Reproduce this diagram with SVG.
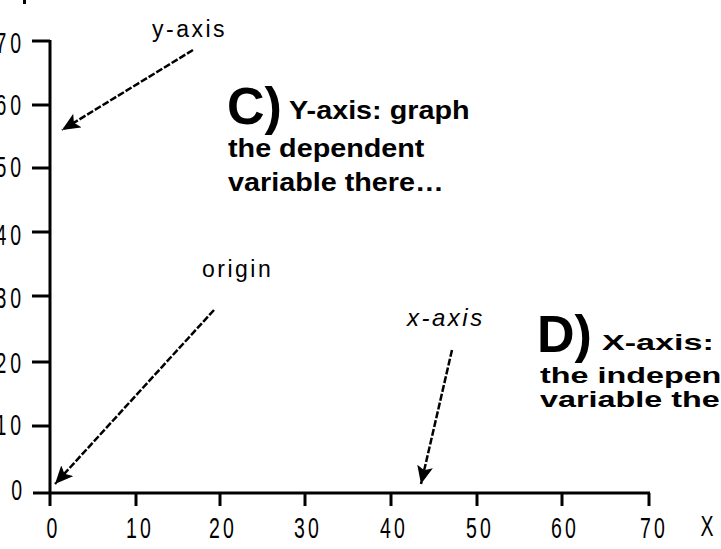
<svg xmlns="http://www.w3.org/2000/svg" width="721" height="549" viewBox="0 0 721 549">
  <style>
    .axis { stroke: #000; stroke-width: 3; fill: none; }
    .num { font-family: "Liberation Sans", Arial, sans-serif; font-size: 30px; fill: #000; }
    .pix { font-family: "Liberation Sans", Arial, sans-serif; font-size: 23px; fill: #000; letter-spacing: 2.5px; }
    .ital { font-style: italic; font-size: 24px; }
    .big { font-family: "Liberation Sans", Arial, sans-serif; font-weight: bold; font-size: 52px; fill: #000; }
    .note { font-family: "Liberation Sans", Arial, sans-serif; font-weight: bold; font-size: 25px; fill: #000; }
    .note-d { font-family: "Liberation Sans", Arial, sans-serif; font-weight: bold; font-size: 22px; fill: #000; }
    .conn { stroke: #000; stroke-width: 2.5; fill: none; stroke-dasharray: 7 2; }
  </style>
  <defs>
    <marker id="head" markerUnits="userSpaceOnUse" markerWidth="20" markerHeight="16" refX="18" refY="8" orient="auto">
      <path d="M0,0 L18,8 L0,16 L4,8 z" fill="#000"/>
    </marker>
  </defs>
  <rect width="721" height="549" fill="#fff"/>

  <g id="axes">
    <line class="axis" x1="50" y1="40" x2="50" y2="506"/>
    <line class="axis" x1="33" y1="493" x2="650" y2="493"/>
    <line class="axis" x1="32" y1="41" x2="50" y2="41"/>
    <line class="axis" x1="32" y1="105" x2="50" y2="105"/>
    <line class="axis" x1="32" y1="168" x2="50" y2="168"/>
    <line class="axis" x1="32" y1="232" x2="50" y2="232"/>
    <line class="axis" x1="32" y1="296" x2="50" y2="296"/>
    <line class="axis" x1="32" y1="362" x2="50" y2="362"/>
    <line class="axis" x1="32" y1="426" x2="50" y2="426"/>
    <line class="axis" x1="136" y1="493" x2="136" y2="506"/>
    <line class="axis" x1="220" y1="493" x2="220" y2="506"/>
    <line class="axis" x1="305" y1="493" x2="305" y2="506"/>
    <line class="axis" x1="391" y1="493" x2="391" y2="506"/>
    <line class="axis" x1="477" y1="493" x2="477" y2="506"/>
    <line class="axis" x1="562" y1="493" x2="562" y2="506"/>
    <line class="axis" x1="649" y1="493" x2="649" y2="506"/>
    <rect x="23" y="0" width="3" height="4" fill="#000"/>
  </g>

  <g id="y-labels" class="num" text-anchor="end">
    <text transform="translate(25,53) scale(0.65,1)" letter-spacing="6">70</text>
    <text transform="translate(25,115) scale(0.65,1)" letter-spacing="6">60</text>
    <text transform="translate(25,177) scale(0.65,1)" letter-spacing="6">50</text>
    <text transform="translate(25,245) scale(0.65,1)" letter-spacing="6">40</text>
    <text transform="translate(25,308) scale(0.65,1)" letter-spacing="6">30</text>
    <text transform="translate(25,373) scale(0.65,1)" letter-spacing="6">20</text>
    <text transform="translate(25,435) scale(0.65,1)" letter-spacing="6">10</text>
    <text transform="translate(22,500) scale(0.65,1)">0</text>
  </g>

  <g id="x-labels" class="num" text-anchor="middle">
    <text transform="translate(52,538) scale(0.65,1)">0</text>
    <text transform="translate(140,538) scale(0.65,1)" letter-spacing="5">10</text>
    <text transform="translate(223,538) scale(0.65,1)" letter-spacing="5">20</text>
    <text transform="translate(308,538) scale(0.65,1)" letter-spacing="5">30</text>
    <text transform="translate(394,538) scale(0.65,1)" letter-spacing="5">40</text>
    <text transform="translate(480,538) scale(0.65,1)" letter-spacing="5">50</text>
    <text transform="translate(565,538) scale(0.65,1)" letter-spacing="5">60</text>
    <text transform="translate(654,538) scale(0.65,1)" letter-spacing="5">70</text>
    <text transform="translate(707,536) scale(0.65,1)">X</text>
  </g>

  <g id="label-y-axis">
    <text class="pix" x="152" y="37">y-axis</text>
  </g>
  <g id="label-origin">
    <text class="pix" x="202" y="277">origin</text>
  </g>
  <g id="label-x-axis">
    <text class="pix ital" x="407" y="326" letter-spacing="3">x-axis</text>
  </g>

  <g id="note-c">
    <text class="big" x="227" y="124">C)</text>
    <text class="note" transform="translate(289,119) scale(1.15,1)">Y-axis: graph</text>
    <text class="note" transform="translate(228,157) scale(1.15,1)">the dependent</text>
    <text class="note" transform="translate(228,191) scale(1.15,1)">variable there…</text>
  </g>

  <g id="note-d">
    <text class="big" x="537" y="352">D)</text>
    <text class="note-d" transform="translate(602,350) scale(1.55,1)">X-axis:</text>
    <text class="note-d" transform="translate(540,383) scale(1.47,1)">the indepen</text>
    <text class="note-d" transform="translate(540,407) scale(1.47,1)">variable the</text>
  </g>

  <g id="connectors">
    <line class="conn" x1="193" y1="50" x2="62" y2="130" marker-end="url(#head)"/>
    <line class="conn" x1="214" y1="310" x2="55" y2="484" marker-end="url(#head)"/>
    <line class="conn" x1="452" y1="350" x2="421" y2="484" marker-end="url(#head)"/>
  </g>
</svg>
